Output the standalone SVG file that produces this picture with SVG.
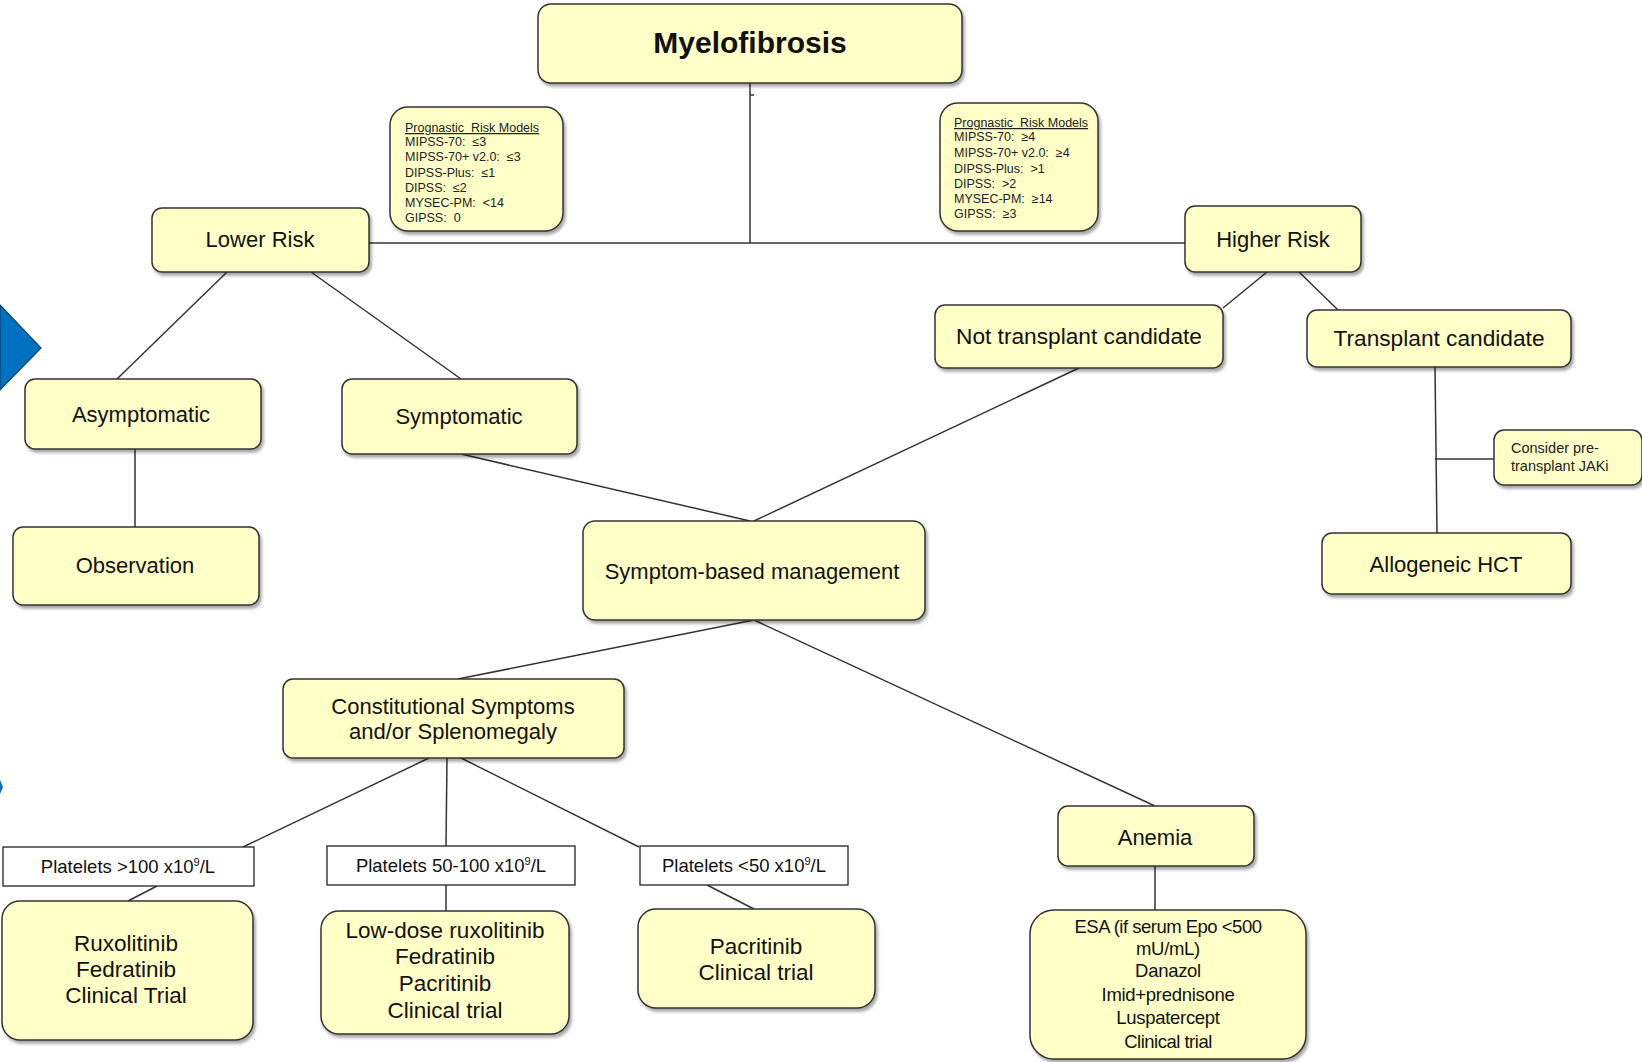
<svg xmlns="http://www.w3.org/2000/svg" width="1642" height="1062" viewBox="0 0 1642 1062">
<defs>
<filter id="sh" x="-10%" y="-10%" width="130%" height="140%">
<feDropShadow dx="2" dy="3" stdDeviation="1.5" flood-color="#000" flood-opacity="0.35"/>
</filter>
<style>
.n{fill:#FFFFC8;stroke:#333;stroke-width:1.5;filter:url(#sh)}
.p{fill:#fff;stroke:#222;stroke-width:1.3}
.t{font-family:"Liberation Sans",Arial,sans-serif;font-size:22px;fill:#111;text-anchor:middle}
.s{font-family:"Liberation Sans",Arial,sans-serif;font-size:18.5px;fill:#111;text-anchor:middle}
.r{font-family:"Liberation Sans",Arial,sans-serif;font-size:12.5px;fill:#222;white-space:pre}
.c line{stroke:#333;stroke-width:1.5}
</style>
</defs>
<rect width="1642" height="1062" fill="#fff"/>
<polygon points="0,305 41,348 0,390" fill="#0070C0" stroke="#0a3f6e" stroke-width="1.2"/>
<polygon points="0,780 3,787 0,794" fill="#0070C0"/>
<g class="c" id="connectors">
<line x1="750" y1="83" x2="750" y2="243"/>
<line x1="750" y1="95" x2="754" y2="95"/>
<line x1="369" y1="243" x2="1185" y2="243"/>
<line x1="227" y1="272" x2="117" y2="379"/>
<line x1="311" y1="272" x2="461" y2="379"/>
<line x1="135" y1="449" x2="135" y2="527"/>
<line x1="461" y1="454" x2="750" y2="521"/>
<line x1="1079" y1="368" x2="754" y2="521"/>
<line x1="1267" y1="272" x2="1223" y2="308"/>
<line x1="1299" y1="272" x2="1338" y2="310"/>
<line x1="1435" y1="367" x2="1437" y2="533"/>
<line x1="1435" y1="459" x2="1494" y2="459"/>
<line x1="754" y1="620" x2="458" y2="679"/>
<line x1="754" y1="620" x2="1155" y2="806"/>
<line x1="429" y1="758" x2="243" y2="847"/>
<line x1="447" y1="758" x2="446" y2="846"/>
<line x1="461" y1="758" x2="639" y2="847"/>
<line x1="157" y1="886" x2="128" y2="901"/>
<line x1="446" y1="885" x2="446" y2="911"/>
<line x1="707" y1="885" x2="754" y2="909"/>
<line x1="1155" y1="866" x2="1155" y2="910"/>
</g>
<g id="myelofibrosis"><rect class="n" x="538" y="4" width="424" height="79" rx="13"/><text class="t" x="750" y="53" style="font-size:30px;font-weight:bold">Myelofibrosis</text></g>
<g id="risk-low"><rect class="n" x="390" y="107" width="173" height="124" rx="18"/>
<text class="r" x="405" y="132" text-decoration="underline">Prognastic  Risk Models</text>
<text class="r" x="405" y="146">MIPSS-70:  ≤3</text>
<text class="r" x="405" y="161">MIPSS-70+ v2.0:  ≤3</text>
<text class="r" x="405" y="177">DIPSS-Plus:  ≤1</text>
<text class="r" x="405" y="192">DIPSS:  ≤2</text>
<text class="r" x="405" y="207">MYSEC-PM:  &lt;14</text>
<text class="r" x="405" y="222">GIPSS:  0</text></g>
<g id="risk-high"><rect class="n" x="940" y="103" width="158" height="128" rx="18"/>
<text class="r" x="954" y="127" text-decoration="underline">Prognastic  Risk Models</text>
<text class="r" x="954" y="141">MIPSS-70:  ≥4</text>
<text class="r" x="954" y="157">MIPSS-70+ v2.0:  ≥4</text>
<text class="r" x="954" y="173">DIPSS-Plus:  &gt;1</text>
<text class="r" x="954" y="188">DIPSS:  &gt;2</text>
<text class="r" x="954" y="203">MYSEC-PM:  ≥14</text>
<text class="r" x="954" y="218">GIPSS:  ≥3</text></g>
<g id="lower-risk"><rect class="n" x="152" y="208" width="217" height="64" rx="10"/><text class="t" x="260" y="247">Lower Risk</text></g>
<g id="higher-risk"><rect class="n" x="1185" y="206" width="176" height="66" rx="10"/><text class="t" x="1273" y="247">Higher Risk</text></g>
<g id="not-transplant"><rect class="n" x="935" y="305" width="288" height="63" rx="10"/><text class="t" x="1079" y="344" style="font-size:22.7px">Not transplant candidate</text></g>
<g id="transplant"><rect class="n" x="1307" y="310" width="264" height="57" rx="10"/><text class="t" x="1439" y="346" style="font-size:22.7px">Transplant candidate</text></g>
<g id="consider"><rect class="n" x="1494" y="430" width="148" height="55" rx="10"/>
<text class="r" x="1511" y="453" style="font-size:14.5px">Consider pre-</text>
<text class="r" x="1511" y="471" style="font-size:14.5px">transplant JAKi</text></g>
<g id="allogeneic"><rect class="n" x="1322" y="533" width="249" height="61" rx="10"/><text class="t" x="1446" y="572">Allogeneic HCT</text></g>
<g id="asymptomatic"><rect class="n" x="25" y="379" width="236" height="70" rx="10"/><text class="t" x="141" y="422">Asymptomatic</text></g>
<g id="symptomatic"><rect class="n" x="342" y="379" width="235" height="75" rx="10"/><text class="t" x="459" y="424">Symptomatic</text></g>
<g id="observation"><rect class="n" x="13" y="527" width="246" height="78" rx="10"/><text class="t" x="135" y="573">Observation</text></g>
<g id="symptom-based"><rect class="n" x="583" y="521" width="342" height="99" rx="12"/><text class="t" x="752" y="579">Symptom-based management</text></g>
<g id="constitutional"><rect class="n" x="283" y="679" width="341" height="79" rx="10"/><text class="t" x="453" y="714">Constitutional Symptoms</text><text class="t" x="453" y="739">and/or Splenomegaly</text></g>
<g id="anemia"><rect class="n" x="1058" y="806" width="196" height="60" rx="10"/><text class="t" x="1155" y="845">Anemia</text></g>
<g id="plt-high"><rect class="p" x="3" y="847" width="251" height="39"/><text class="s" x="128" y="873">Platelets &gt;100 x10<tspan font-size="11" dy="-7">9</tspan><tspan dy="7">/L</tspan></text></g>
<g id="plt-mid"><rect class="p" x="327" y="846" width="248" height="39"/><text class="s" x="451" y="872">Platelets 50-100 x10<tspan font-size="11" dy="-7">9</tspan><tspan dy="7">/L</tspan></text></g>
<g id="plt-low"><rect class="p" x="640" y="846" width="208" height="39"/><text class="s" x="744" y="872">Platelets &lt;50 x10<tspan font-size="11" dy="-7">9</tspan><tspan dy="7">/L</tspan></text></g>
<g id="tx-high"><rect class="n" x="2" y="901" width="251" height="139" rx="18"/>
<text class="t" x="126" y="951" style="font-size:22.5px">Ruxolitinib</text><text class="t" x="126" y="977" style="font-size:22.5px">Fedratinib</text><text class="t" x="126" y="1003" style="font-size:22.5px">Clinical Trial</text></g>
<g id="tx-mid"><rect class="n" x="321" y="911" width="248" height="123" rx="18"/>
<text class="t" x="445" y="938" style="font-size:22.5px">Low-dose ruxolitinib</text><text class="t" x="445" y="964" style="font-size:22.5px">Fedratinib</text><text class="t" x="445" y="991" style="font-size:22.5px">Pacritinib</text><text class="t" x="445" y="1018" style="font-size:22.5px">Clinical trial</text></g>
<g id="tx-low"><rect class="n" x="638" y="909" width="237" height="99" rx="18"/>
<text class="t" x="756" y="954" style="font-size:22.5px">Pacritinib</text><text class="t" x="756" y="980" style="font-size:22.5px">Clinical trial</text></g>
<g id="tx-anemia"><rect class="n" x="1030" y="910" width="276" height="149" rx="24"/>
<text class="s" x="1168" y="933" style="font-size:18.5px;letter-spacing:-0.5px">ESA (if serum Epo &lt;500</text>
<text class="s" x="1168" y="955" style="font-size:18.5px;letter-spacing:-0.3px">mU/mL)</text>
<text class="s" x="1168" y="977" style="font-size:18.5px;letter-spacing:-0.3px">Danazol</text>
<text class="s" x="1168" y="1001" style="font-size:18.5px;letter-spacing:-0.3px">Imid+prednisone</text>
<text class="s" x="1168" y="1024" style="font-size:18.5px;letter-spacing:-0.3px">Luspatercept</text>
<text class="s" x="1168" y="1048" style="font-size:18.5px;letter-spacing:-0.5px">Clinical trial</text></g>
</svg>
